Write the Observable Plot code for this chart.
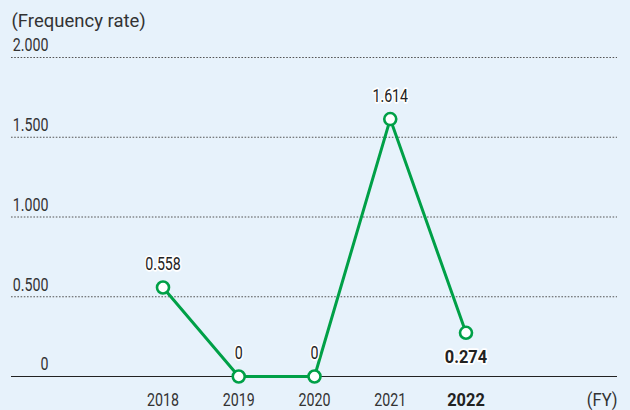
<!DOCTYPE html>
<html>
<head>
<meta charset="utf-8">
<script src="https://cdn.jsdelivr.net/npm/d3@7"></script>
<script src="https://cdn.jsdelivr.net/npm/@observablehq/plot@0.6"></script>
<style>
  html, body { margin: 0; padding: 0; background: #e7f2fb; }
  #chart svg { display: block; }
</style>
</head>
<body>
<div id="chart"></div>
<script>
const years = [2018, 2019, 2020, 2021, 2022];
const rates = [0.558, 0, 0, 1.614, 0.274];
const valueLabels = ["0.558", "0", "0", "1.614", "0.274"];
const yTicks = [0, 0.5, 1, 1.5, 2];
const title = "(Frequency rate)";
const xUnit = "(FY)";

const data = years.map((y, i) => ({year: y, rate: rates[i], label: valueLabels[i]}));
const latest = years[years.length - 1];
const green = "#00a047";
const ink = "#333";
const font = "Roboto, 'Liberation Sans', sans-serif";

const fmtY = d => d === 0 ? "0" : d.toFixed(3);

const chart = Plot.plot({
  width: 630,
  height: 410,
  marginTop: 57,
  marginBottom: 34,
  marginLeft: 11,
  marginRight: 13,
  style: {background: "transparent", fontFamily: font, fontSize: "18px", color: ink},
  x: {domain: [2016, 2024], axis: null, label: null},
  y: {domain: [0, 2], axis: null, label: null},
  marks: [
    Plot.gridY(yTicks.filter(d => d > 0), {stroke: "#555", strokeOpacity: 1, strokeWidth: 1, strokeDasharray: "1.6,1.6"}),
    Plot.ruleY([0], {stroke: "#222", strokeWidth: 1.2}),
    Plot.axisY(yTicks, {label: null, tickSize: 0, tickFormat: fmtY, textAnchor: "end", dx: 46, dy: -12, fill: ink, fontSize: 18}),
    Plot.axisX(years.filter(y => y !== latest), {label: null, tickSize: 0, tickPadding: 17, tickFormat: d => String(d), fill: ink, fontSize: 18}),
    Plot.axisX([latest], {label: null, tickSize: 0, tickPadding: 17, tickFormat: d => String(d), fill: "#222", fontWeight: "bold", fontSize: 18}),
    Plot.text([xUnit], {frameAnchor: "bottom-right", dx: 0, dy: 29, fill: ink, fontSize: 18}),
    Plot.text([title], {frameAnchor: "top-left", dx: 0, dy: -44, fill: ink, fontSize: 18.5}),
    Plot.line(data, {x: "year", y: "rate", stroke: green, strokeWidth: 3}),
    Plot.dot(data, {x: "year", y: "rate", r: 6, fill: "white", stroke: green, strokeWidth: 2.6}),
    Plot.text(data.filter(d => d.year !== latest), {x: "year", y: "rate", text: "label", dy: -23, fill: "#222", stroke: "white", strokeWidth: 3.5, fontSize: 18}),
    Plot.text(data.filter(d => d.year === latest), {x: "year", y: "rate", text: "label", dy: 24, fill: "#222", stroke: "white", strokeWidth: 3.5, fontSize: 18, fontWeight: "bold"})
  ]
});
document.getElementById("chart").appendChild(chart);

// Narrow the numerals horizontally around each text's own anchor, imitating a condensed typeface.
chart.querySelectorAll("text").forEach(t => {
  const txt = t.textContent;
  if (txt === title) return;
  const cs = getComputedStyle(t);
  const bold = cs.fontWeight === "bold" || +cs.fontWeight >= 600;
  const s = txt === xUnit ? 0.92 : bold ? 0.91 : 0.79;
  const b = t.getBBox();
  const anchor = cs.textAnchor;
  const ax = anchor === "end" ? b.x + b.width : anchor === "middle" ? b.x + b.width / 2 : b.x;
  const prev = t.getAttribute("transform") || "";
  t.setAttribute("transform", `${prev} translate(${ax},0) scale(${s},1) translate(${-ax},0)`.trim());
});
</script>
</body>
</html>
